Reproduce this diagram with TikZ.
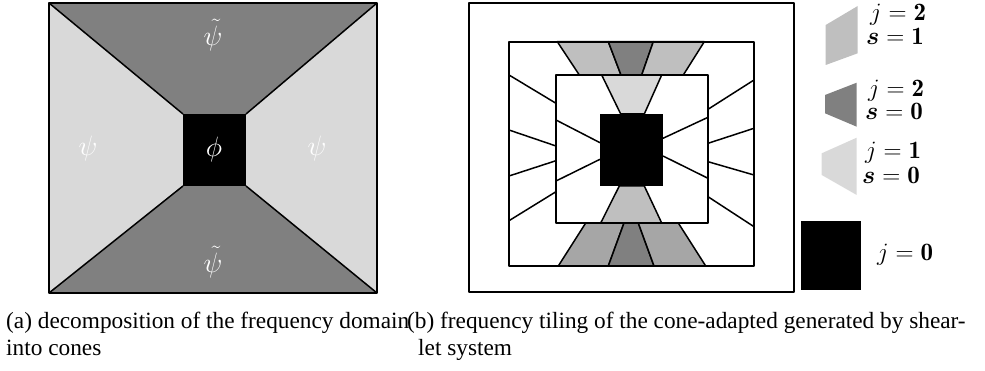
\RequirePackage{fix-cm}
\documentclass[tikz,border=0pt]{standalone}
\usepackage{fontspec}
\usepackage{bm}
\newfontfamily\capfont{Liberation Serif}
\definecolor{cdark}{gray}{0.5}
\definecolor{cmid}{gray}{0.65}
\definecolor{clight}{gray}{0.75}
\definecolor{cpale}{gray}{0.85}
\tikzset{pix/.style={x=1pt,y=-1pt}}
\tikzset{edge/.style={black,line width=1.5pt,line join=round},
         wedge/.style={edge,fill=#1}}
\tikzset{lab/.style={white,font=\fontsize{28}{32}\selectfont},
         leg/.style={anchor=base west,inner sep=0pt,font=\fontsize{25}{28}\selectfont},
         captext/.style={anchor=base west,inner sep=0pt,font=\capfont\fontsize{23.3}{27}\selectfont}}

\begin{document}
\begin{tikzpicture}[pix]
    \useasboundingbox (0,0) rectangle (985,371);
    % (a) cones
    \fill[cpale] (49,3) rectangle (377,293);
    \fill[cdark] (49,3) -- (377,3) -- (246,114) -- (183,114) -- cycle;
    \fill[cdark] (49,293) -- (377,293) -- (246,186) -- (183,186) -- cycle;
    \fill[black] (183,114) rectangle (246,186);
    \draw[edge] (49,3) -- (183,114) (377,3) -- (246,114)
                (49,293) -- (183,186) (377,293) -- (246,186);
    \draw[edge] (49,3) rectangle (377,293);
    \node[lab] (psiT) at (213,35) {$\tilde{\psi}$};
    \node[lab] (psiB) at (213,262) {$\tilde{\psi}$};
    \node[lab] (psiL) at (88,149) {$\psi$};
    \node[lab] (psiR) at (317,149) {$\psi$};
    \node[lab] (phi) at (214,150) {$\phi$};
    % (b) tiling
    \draw[edge] (469,3) rectangle (794,292);
    \draw[wedge=clight] (557.3,41.7) -- (579.3,75) -- (621,75) -- (608.3,41.7) -- cycle;
    \draw[wedge=cdark]  (608.3,41.7) -- (621,75) -- (641.7,75) -- (653.3,41.7) -- cycle;
    \draw[wedge=clight] (653.3,41.7) -- (641.7,75) -- (683.3,75) -- (704.3,41.7) -- cycle;
    \draw[wedge=cpale]  (601.7,75) -- (620.7,114) -- (644.3,114) -- (661.7,75) -- cycle;
    \draw[wedge=clight] (619.3,186) -- (600.7,223) -- (661.7,223) -- (644.3,186) -- cycle;
    \draw[wedge=cmid]   (585.7,223) -- (558.3,266) -- (608.3,266) -- (624,223) -- cycle;
    \draw[wedge=cdark]  (624,223) -- (608.3,266) -- (654,266) -- (638.3,223) -- cycle;
    \draw[wedge=cmid]   (638.3,223) -- (654,266) -- (705.7,266) -- (678.3,223) -- cycle;
    \draw[edge] (509,42) rectangle (754,266);
    \draw[edge] (556,75) rectangle (708,223);
    \fill[black] (600,114) rectangle (663,186);
    \draw[edge] (509,75) -- (556,103.3) (509,130) -- (556,146)
                (509,176) -- (556,160.7) (509,220.7) -- (556,191.7);
    \draw[edge] (556,120) -- (600,142.7) (556,181) -- (600,159.3);
    \draw[edge] (663,138.3) -- (708,117.3) (663,156) -- (708,178.3);
    \draw[edge] (708,109.3) -- (754,80) (708,143.3) -- (754,128.3)
                (708,161.7) -- (754,175) (708,196.7) -- (754,226.7);
    % legend
    \fill[clight] (825.7,25) -- (857.7,6) -- (857.7,53.3) -- (825.7,65) -- cycle;
    \fill[cdark] (825,95) -- (856.7,82.7) -- (856.7,126.7) -- (825,113.3) -- cycle;
    \fill[cpale] (821.7,153.3) -- (856.7,137.7) -- (856.7,195) -- (821.7,175) -- cycle;
    \fill[black] (801,221) rectangle (861,290);
    \node[leg] (jA) at (870,21) {$j=\mathbf{2}$};
    \node[leg] (sA) at (866,45) {$\bm{s}=\mathbf{1}$};
    \node[leg] (jB) at (868,97) {$j=\mathbf{2}$};
    \node[leg] (sB) at (865,120) {$\bm{s}=\mathbf{0}$};
    \node[leg] (jC) at (865,159) {$j=\mathbf{1}$};
    \node[leg] (sC) at (862,184) {$\bm{s}=\mathbf{0}$};
    \node[leg] (jD) at (877,261) {$j=\mathbf{0}$};
    % captions
    \node[captext] (capA1) at (6,328) {(a) decomposition of the frequency domain};
    \node[captext] (capA2) at (6,355) {into cones};
    \node[captext] (capB1) at (407,328) {(b) frequency tiling of the cone-adapted generated by shear-};
    \node[captext] (capB2) at (418,355) {let system};
\end{tikzpicture}
\end{document}
